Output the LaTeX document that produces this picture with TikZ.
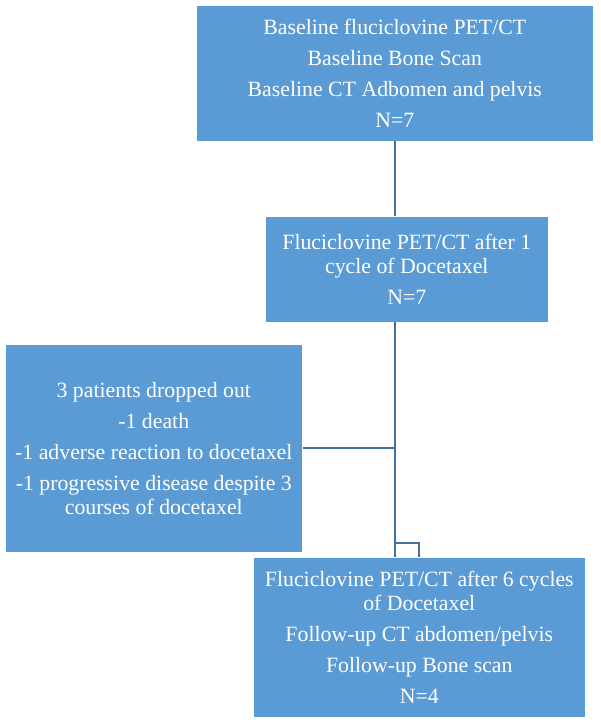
\documentclass[tikz,border=0pt]{standalone}
\usepackage{fontspec}
\setmainfont{Liberation Serif}
\definecolor{boxblue}{HTML}{5B9BD5}
\definecolor{lineblue}{HTML}{41719C}
\begin{document}
\begin{tikzpicture}[x=1pt,y=-1pt,
  flowbox/.style={fill=boxblue, draw=white, line width=0.6pt, text=white, align=center, inner sep=0pt,
    font=\fontsize{21.8}{23.5}\selectfont, anchor=north west},
  link/.style={draw=lineblue, line width=2pt}]
\useasboundingbox (0,0) rectangle (600,723);
\node[flowbox, minimum width=397pt, minimum height=136pt] (b1) at (196,5)
  {Baseline fluciclovine PET/CT\\[7.5pt]Baseline Bone Scan\\[7.5pt]Baseline CT Adbomen and pelvis\\[7.5pt]N=7};
\node[flowbox, minimum width=283pt, minimum height=106pt] (b2) at (265,216)
  {Fluciclovine PET/CT after 1\\cycle of Docetaxel\\[7.5pt]N=7};
\node[flowbox, minimum width=297pt, minimum height=208pt] (b3) at (5,344)
  {3 patients dropped out\\[7.5pt]-1 death\\[7.5pt]-1 adverse reaction to docetaxel\\[7.5pt]-1 progressive disease despite 3\\courses of docetaxel};
\node[flowbox, minimum width=332pt, minimum height=160pt] (b4) at (253,557)
  {Fluciclovine PET/CT after 6 cycles\\of Docetaxel\\[7.5pt]Follow-up CT abdomen/pelvis\\[7.5pt]Follow-up Bone scan\\[7.5pt]N=4};
\coordinate (t1) at (395,141);
\coordinate (t2) at (395,322);
\coordinate (j) at (395,543);
\coordinate (m) at (395,448);
\draw[link] (t1) -- (t1 |- b2.north);
\draw[link] (t2) -- (t2 |- b4.north);
\draw[link] (b3.east |- m) -- (m);
\draw[link] (j) -| (b4.north);
\end{tikzpicture}
\end{document}
